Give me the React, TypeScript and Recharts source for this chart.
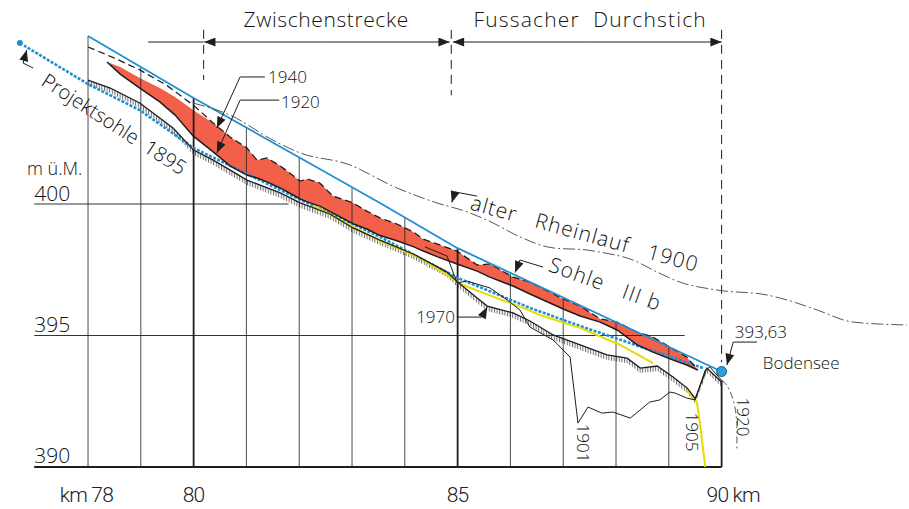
import React from "react";
import {
  Area,
  ComposedChart,
  Line,
  ReferenceDot,
  ReferenceLine,
  XAxis,
  YAxis,
} from "recharts";

type Pt = [number, number];

// km, m ü.M.
const sohle3b: Pt[] = [
  [78.0, 406.39], [80.0, 404.03], [82.02, 401.75], [83.53, 400.04], [84.99, 398.33], [90.0, 393.63],
];

const projekt1895: Pt[] = [
  [76.71, 406.12], [78.0, 404.56], [78.98, 403.57], [80.0, 402.13], [81.64, 400.53], [83.53, 398.75],
  [85.0, 397.19], [86.37, 396.05], [87.32, 395.36], [88.21, 394.75], [89.65, 393.76],
];

const bed1970: Pt[] = [
  [78.0, 404.71], [78.42, 404.41], [78.98, 403.84], [79.61, 402.89], [80.0, 402.05], [80.37, 401.67],
  [80.75, 401.22], [81.01, 400.91], [81.64, 400.42], [82.02, 400.04], [82.58, 399.62], [83.02, 399.09],
  [83.53, 398.63], [84.16, 398.1], [84.8, 397.41], [85.0, 397.03],
  [85.37, 396.43], [85.56, 396.12], [86.05, 395.86], [86.37, 395.55], [86.81, 395.02], [87.32, 394.64],
  [87.83, 394.26], [88.21, 394.14], [88.46, 393.76], [88.78, 393.84], [89.08, 393.42], [89.35, 393.0],
  [89.5, 392.6], [89.72, 393.76], [90.0, 393.23],
];

// red band: 1920 (lower) to 1940 (upper)
const redKm = [
  78.36, 78.61, 78.98, 79.36, 79.65, 79.99, 80.37, 80.69, 81.01, 81.2, 81.39, 81.64, 82.02, 82.15,
  82.39, 82.64, 83.02, 83.28, 83.53, 83.85, 84.16, 84.34, 84.61, 84.99, 85.37, 85.61, 86.05, 86.37,
  87.0, 87.32, 87.7, 88.02, 88.4, 88.7, 89.02, 89.34, 89.55,
];
const red1920 = [
  405.4, 404.94, 404.41, 403.88, 403.38, 402.59, 401.98, 401.45, 401.1, 400.99, 400.84, 400.61, 400.19,
  400.08, 399.92, 399.65, 399.25, 399.05, 398.8, 398.6, 398.38, 398.22, 398.0, 397.72, 397.45,
  397.22, 396.88, 396.58, 396.01, 395.74, 395.51, 395.21, 394.64, 394.37, 394.11, 393.88, 393.69,
];
const red1940 = [
  405.4, 405.21, 404.79, 404.41, 404.07, 403.57, 403.08, 402.55, 402.13, 401.67, 401.75, 401.45, 400.87,
  400.95, 400.8, 400.3, 400.04, 399.73, 399.47, 399.24, 398.94, 398.67, 398.48, 398.21, 397.68,
  397.72, 397.22, 397.03, 396.39, 396.12, 395.63, 395.51, 395.13, 394.94, 394.56, 394.18, 393.69,
];
const bed1940Left: Pt[] = [
  [78.0, 405.97], [78.5, 405.55], [78.98, 405.1], [79.5, 404.5], [80.0, 403.75],
];

const bed1901: Pt[] = [
  [84.38, 398.37], [84.8, 398.02], [84.99, 397.0], [85.18, 397.07], [85.61, 396.81], [85.94, 396.35],
  [86.18, 395.97], [86.37, 395.32], [86.81, 394.83], [87.13, 394.18], [87.28, 391.67], [87.47, 392.28],
  [87.73, 392.05], [87.94, 392.09], [88.27, 391.86], [88.64, 392.47], [88.83, 392.55], [89.02, 392.85],
  [89.12, 392.81], [89.34, 392.62], [89.5, 392.55], [89.69, 393.69], [89.78, 393.8], [90.03, 393.23],
];

const bed1905: (Pt | null)[] = [
  [82.26, 399.95], [83.09, 399.05], [83.53, 398.6], [84.29, 397.95], [85.1, 396.92], [85.48, 396.62],
  [86.24, 396.05], [86.56, 395.78], [87.32, 395.29], [88.08, 394.64], [88.7, 393.95],
  null,
  [89.34, 392.93], [89.53, 392.47], [89.59, 391.67], [89.65, 390.65], [89.69, 390.0],
];

const rhein1900: Pt[] = [
  [79.99, 403.84], [80.69, 403.38], [81.5, 402.43], [82.02, 401.94], [82.91, 401.52], [83.85, 400.61],
  [84.61, 400.04], [85.18, 399.7], [85.67, 399.28], [86.18, 398.75], [86.81, 398.33], [87.45, 398.25],
  [87.7, 398.17], [88.32, 397.87], [88.78, 397.41], [89.21, 397.03], [89.91, 396.73], [90.86, 396.54],
  [91.24, 396.35], [91.81, 395.97], [92.49, 395.51], [93.51, 395.4],
];

const lake1920: Pt[] = [
  [90.0, 393.3], [90.2, 392.66], [90.29, 391.67], [90.29, 390.65],
];

const bodenseeLevel = 393.63;
const gridKm = [78, 79, 80, 81, 82, 83, 84, 85, 86, 87, 88, 89, 90];
const majorKm = [80, 85, 90];
const kmTicks = [78, 80, 85, 90];
const mTicks = [390, 395, 400];
const hLineEnd = [90.0, 89.3, 81.8];

// section marks on top
const dimY = 406.16;
const sectionKm = [80.19, 84.88, 90.0];
const sectionLabels = ["Zwischenstrecke", "Fussacher  Durchstich"];

const leaders: Pt[][] = [
  [[81.35, 404.83], [80.88, 404.83], [80.44, 402.89]],
  [[81.62, 403.95], [80.88, 403.95], [80.44, 401.94]],
  [[76.96, 405.17], [76.77, 405.36], [76.84, 405.86]],
  [[85.37, 400.3], [84.95, 400.46], [84.89, 400.06]],
  [[86.62, 397.6], [86.18, 397.87], [86.09, 397.4]],
  [[85.01, 395.7], [85.46, 395.7], [85.56, 396.08]],
  [[90.67, 394.75], [90.22, 394.75], [90.1, 393.88]],
];

type Note = {
  km: number;
  m: number;
  text: string;
  size?: number;
  angle?: number;
  anchor?: string;
  mid?: boolean;
  spacing?: number;
};
const notes: Note[] = [
  { km: 82.51, m: 406.73, text: sectionLabels[0], size: 21, anchor: "middle", spacing: 0.6 },
  { km: 87.51, m: 406.73, text: sectionLabels[1], size: 21, anchor: "middle", spacing: 1.2 },
  { km: 81.41, m: 404.6, text: "1940" },
  { km: 81.655, m: 403.65, text: "1920" },
  { km: 78.5, m: 403.05, text: "Projektsohle  1895", size: 20, angle: 33, anchor: "middle", mid: true },
  { km: 76.845, m: 401.1, text: "m ü.M.", size: 18 },
  { km: 76.98, m: 400.13, text: "400", size: 21 },
  { km: 76.98, m: 395.15, text: "395", size: 21 },
  { km: 76.98, m: 390.17, text: "390", size: 21 },
  { km: 87.41, m: 398.9, text: "alter   Rheinlauf   1900", size: 21, angle: 15.5, anchor: "middle", mid: true, spacing: 1 },
  { km: 87.8, m: 396.98, text: "Sohle   III b", size: 21, angle: 20, anchor: "middle", mid: true, spacing: 1.2 },
  { km: 84.95, m: 395.48, text: "1970", anchor: "end" },
  { km: 87.375, m: 390.91, text: "1901", angle: 90, anchor: "middle", mid: true },
  { km: 89.44, m: 391.33, text: "1905", angle: 90, anchor: "middle", mid: true },
  { km: 90.42, m: 391.9, text: "1920", angle: 90, anchor: "middle", mid: true },
  { km: 90.25, m: 394.9, text: "393,63" },
  { km: 90.78, m: 393.73, text: "Bodensee" },
];

const pts = (arr: (Pt | null)[]) => arr.map((p) => (p ? { km: p[0], m: p[1] } : { km: null, m: null }));

const interp = (arr: Pt[], km: number) => {
  for (let i = 1; i < arr.length; i++) {
    const [x0, y0] = arr[i - 1];
    const [x1, y1] = arr[i];
    if (km >= x0 && km <= x1) return y0 + ((y1 - y0) * (km - x0)) / (x1 - x0);
  }
  return arr[arr.length - 1][1];
};

const redBand = redKm.map((km, i) => ({ km, band: [red1920[i], red1940[i]] }));
const hatchBand = bed1970.map(([km, m]) => ({ km, band: [m - 0.19, m] }));
const line1940 = [...bed1940Left, ...redKm.map((km, i) => [km, red1940[i]] as Pt).filter((p) => p[0] > 80)];
const line1920 = redKm.map((km, i) => [km, red1920[i]] as Pt);

const FONT = "'Open Sans', 'Noto Sans', sans-serif";
const INK = "#1e1e1e";

const KmTick = ({ x, y, payload }: any) => {
  const v = payload.value;
  let label = String(v);
  let anchor = "middle";
  let dx = 0;
  if (v === 78) {
    label = "km 78";
    anchor = "end";
    dx = 25;
  }
  if (v === 90) {
    label = "90 km";
    anchor = "start";
    dx = -15;
  }
  return (
    <text
      x={x + dx}
      y={y + 27}
      textAnchor={anchor}
      fontSize={21}
      fontFamily="Roboto, 'Liberation Sans', sans-serif"
      fontWeight={300}
      fill="#222"
      letterSpacing={-0.8}
    >
      {label}
    </text>
  );
};

const NoteShape = ({ cx, cy, n }: any) => (
  <text
    x={cx}
    y={cy}
    fontSize={n.size ?? 17}
    textAnchor={n.anchor ?? "start"}
    dominantBaseline={n.mid ? "central" : undefined}
    transform={n.angle ? `rotate(${n.angle} ${cx} ${cy})` : undefined}
    fontFamily={FONT}
    fontWeight={300}
    letterSpacing={n.spacing ?? 0}
    fill="#111"
    style={{ whiteSpace: "pre" }}
  >
    {n.text}
  </text>
);

export default function App() {
  return (
    <div style={{ width: 909, height: 509, background: "#fff" }}>
      <style>{"body{margin:0}"}</style>
      <ComposedChart width={909} height={509} margin={{ top: 0, right: 0, bottom: 0, left: 0 }}>
        <defs>
          <marker id="arrowHead" viewBox="0 0 10 8" refX="10" refY="4" markerWidth="13" markerHeight="9" markerUnits="userSpaceOnUse" orient="auto">
            <path d="M0,0 L10,4 L0,8 z" fill={INK} />
          </marker>
          <pattern id="hatch" width="2.6" height="8" patternUnits="userSpaceOnUse">
            <rect x="0" y="0" width="1" height="8" fill="#6a6a6a" />
          </pattern>
        </defs>
        <XAxis
          dataKey="km"
          type="number"
          domain={[76.333, 93.549]}
          ticks={kmTicks}
          height={42}
          axisLine={false}
          tickLine={false}
          tick={<KmTick />}
          allowDataOverflow
        />
        <YAxis type="number" domain={[390, 407.757]} hide allowDataOverflow />

        {gridKm.map((km) => (
          <ReferenceLine
            key={`v${km}`}
            segment={[
              { x: km, y: 390 },
              { x: km, y: km === 90 ? interp(bed1970, km) : interp(sohle3b, km) },
            ]}
            stroke={INK}
            strokeWidth={majorKm.includes(km) ? 1.8 : 0.8}
          />
        ))}
        {mTicks.map((m, i) => (
          <ReferenceLine
            key={`h${m}`}
            segment={[
              { x: 76.98, y: m },
              { x: hLineEnd[i], y: m },
            ]}
            stroke={INK}
            strokeWidth={i === 0 ? 1.8 : 0.9}
          />
        ))}
        {sectionKm.map((km, i) => (
          <ReferenceLine
            key={`s${km}`}
            segment={[
              { x: km, y: 406.62 },
              { x: km, y: i === 2 ? 393.99 : i === 1 ? 404.14 : 404.71 },
            ]}
            stroke={INK}
            strokeWidth={1}
            strokeDasharray="9 6"
          />
        ))}

        <Area data={redBand} dataKey="band" type="linear" fill="#f2604a" fillOpacity={1} stroke="none" isAnimationActive={false} />
        <Area data={hatchBand} dataKey="band" type="linear" fill="url(#hatch)" fillOpacity={1} stroke="none" isAnimationActive={false} />

        <Line data={pts(projekt1895)} dataKey="m" type="linear" stroke="#1e8fd2" strokeWidth={2.6} strokeDasharray="3 1.5" dot={false} isAnimationActive={false} />
        <Line data={pts(bed1905)} dataKey="m" type="linear" stroke="#e6dc00" strokeWidth={2} dot={false} connectNulls={false} isAnimationActive={false} />
        <Line data={pts(bed1901)} dataKey="m" type="linear" stroke={INK} strokeWidth={1} dot={false} isAnimationActive={false} />
        <Line data={pts(bed1970)} dataKey="m" type="linear" stroke={INK} strokeWidth={1.3} dot={false} isAnimationActive={false} />
        <Line data={pts(line1920)} dataKey="m" type="linear" stroke={INK} strokeWidth={1.5} dot={false} isAnimationActive={false} />
        <Line data={pts(line1940)} dataKey="m" type="linear" stroke={INK} strokeWidth={1.3} strokeDasharray="7 4" dot={false} isAnimationActive={false} />
        <Line data={pts(sohle3b)} dataKey="m" type="linear" stroke="#1e8fd2" strokeWidth={1.8} dot={false} isAnimationActive={false} />
        <Line data={pts(rhein1900)} dataKey="m" type="monotone" stroke="#444" strokeWidth={0.9} strokeDasharray="12 3 2 3" dot={false} isAnimationActive={false} />
        <Line data={pts(lake1920)} dataKey="m" type="monotone" stroke="#444" strokeWidth={0.9} strokeDasharray="7 3 2 3" dot={false} isAnimationActive={false} />

        {/* dimension line on top */}
        <Line data={pts([[79.14, dimY], [sectionKm[0], dimY]])} dataKey="m" stroke={INK} strokeWidth={1} dot={false} isAnimationActive={false} />
        {[
          [82.5, sectionKm[0] + 0.01],
          [82.5, sectionKm[1] - 0.03],
          [87.4, sectionKm[1] + 0.03],
          [87.4, sectionKm[2]],
        ].map(([a, b], i) => (
          <Line
            key={`d${i}`}
            data={pts([[a, dimY], [b, dimY]])}
            dataKey="m"
            stroke={INK}
            strokeWidth={1}
            dot={false}
            markerEnd="url(#arrowHead)"
            isAnimationActive={false}
          />
        ))}

        {leaders.map((l, i) => (
          <Line
            key={`l${i}`}
            data={pts(l)}
            dataKey="m"
            stroke={INK}
            strokeWidth={1}
            dot={false}
            markerEnd="url(#arrowHead)"
            isAnimationActive={false}
          />
        ))}

        <ReferenceDot x={90.0} y={bodenseeLevel} r={5} fill="#2a9fe0" stroke="#1b5d8c" strokeWidth={1} />

        {notes.map((n, i) => (
          <ReferenceDot key={`n${i}`} x={n.km} y={n.m} r={0} shape={(p: any) => <NoteShape cx={p.cx} cy={p.cy} n={n} />} />
        ))}
      </ComposedChart>
    </div>
  );
}
